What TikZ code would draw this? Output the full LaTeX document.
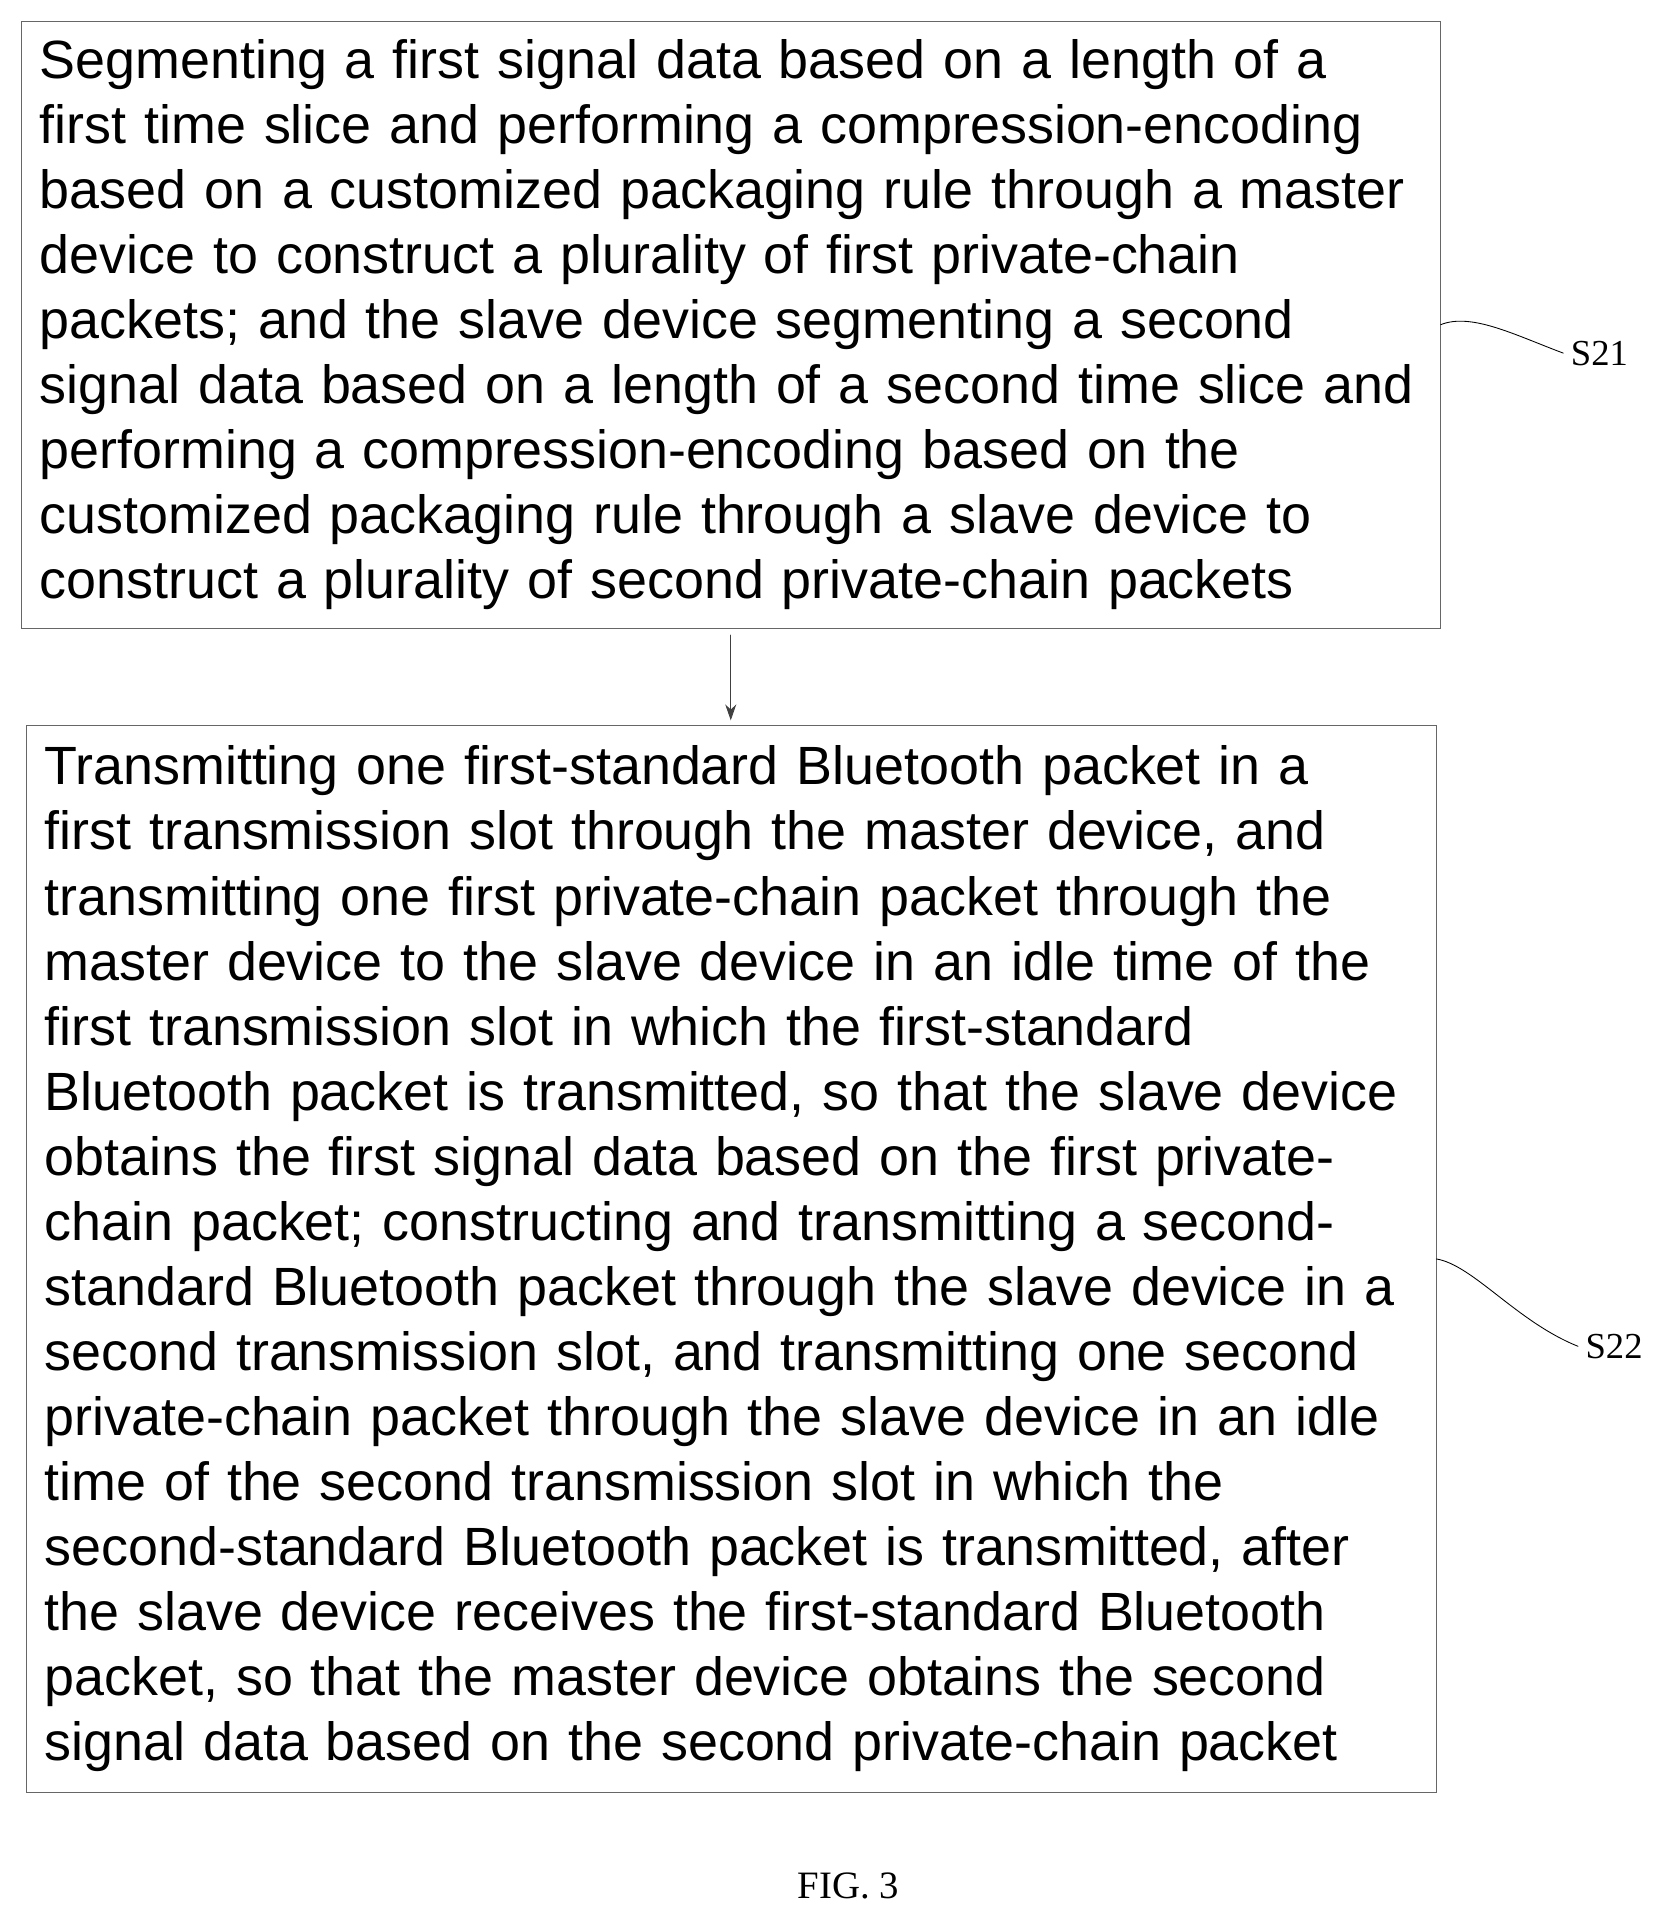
\documentclass[tikz,border=0pt]{standalone}
\usepackage{fontspec}
\setmainfont{Liberation Sans}
\newfontfamily\labelfont{Liberation Serif}
\usetikzlibrary{positioning,arrows.meta}

\begin{document}
\begin{tikzpicture}[x=0.02cm,y=-0.02cm,line cap=round]
	\tikzset{stepbox/.style={draw=black!60,thin,align=left,anchor=north west,inner xsep=0.3cm,inner ysep=0.22cm,
		font=\fontsize{25}{30.2}\selectfont}};
	\tikzset{steplbl/.style={font=\labelfont\fontsize{17}{20}\selectfont}};
	\useasboundingbox (0,0) rectangle (1365,1570);
	\node[stepbox,text width=22.55cm,minimum height=9.9cm] (s21) at (17,17)
		{Segmenting a first signal data based on a length of a\\
		first time slice and performing a compression-encoding\\
		based on a customized packaging rule through a master\\
		device to construct a plurality of first private-chain\\
		packets; and the slave device segmenting a second\\
		signal data based on a length of a second time slice and\\
		performing a compression-encoding based on the\\
		customized packaging rule through a slave device to\\
		construct a plurality of second private-chain packets};
	\node[stepbox,text width=22.4cm,minimum height=17.42cm] (s22) at (21,591)
		{Transmitting one first-standard Bluetooth packet in a\\
		first transmission slot through the master device, and\\
		transmitting one first private-chain packet through the\\
		master device to the slave device in an idle time of the\\
		first transmission slot in which the first-standard\\
		Bluetooth packet is transmitted, so that the slave device\\
		obtains the first signal data based on the first private-\\
		chain packet; constructing and transmitting a second-\\
		standard Bluetooth packet through the slave device in a\\
		second transmission slot, and transmitting one second\\
		private-chain packet through the slave device in an idle\\
		time of the second transmission slot in which the\\
		second-standard Bluetooth packet is transmitted, after\\
		the slave device receives the first-standard Bluetooth\\
		packet, so that the master device obtains the second\\
		signal data based on the second private-chain packet};
	\node[steplbl,anchor=west] (l21) at (1275,288) {S21};
	\node[steplbl,anchor=west] (l22) at (1287,1098) {S22};
	\node[font=\labelfont\fontsize{18}{20}\selectfont] (fig) at (692,1538) {FIG. 3};
	\draw[-{Stealth[length=0.26cm,width=0.18cm]},black!75,shorten <=3pt,shorten >=2pt] (s21.south -| 596,0) -- (s22.north -| 596,0);
	\draw[thin] (s21.east) .. controls +(25,-10) and +(-40,-15) .. (l21.west);
	\draw[thin] (s22.east) .. controls +(30,5) and +(-50,-20) .. (l22.west);
\end{tikzpicture}
\end{document}
